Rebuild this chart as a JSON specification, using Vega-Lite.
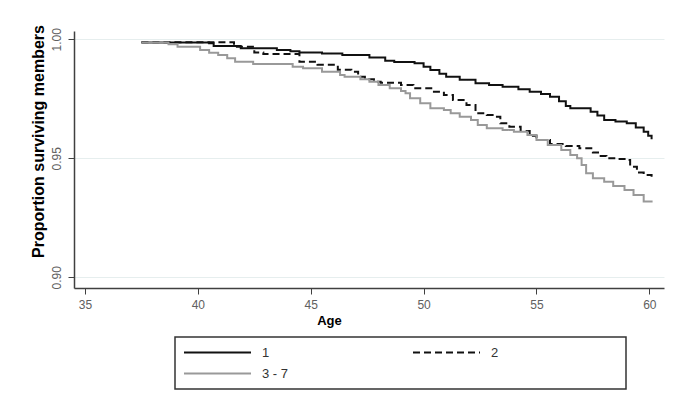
{
  "$schema": "https://vega.github.io/schema/vega-lite/v6.json",
  "autosize": {"type": "none"},
  "padding": {"left": 74, "top": 31, "right": 21, "bottom": 116},
  "width": 590,
  "height": 257,
  "background": "white",
  "config": {
    "font": "Liberation Sans",
    "view": {"stroke": null},
    "legend": {
      "orient": "none",
      "legendX": 101,
      "legendY": 306,
      "direction": "horizontal",
      "columns": 2,
      "columnPadding": 123,
      "rowPadding": 6,
      "padding": 8,
      "strokeColor": "#333333",
      "strokeWidth": 1.5,
      "symbolType": "stroke",
      "symbolSize": 4489,
      "symbolStrokeWidth": 2,
      "clipHeight": 15,
      "labelOffset": 10,
      "labelFontSize": 13,
      "labelLimit": 300,
      "labelColor": "#333333"
    }
  },
  "datasets": {
    "km": [
      {"group": "1", "age": 37.5, "surv": 0.9987},
      {"group": "1", "age": 40.5, "surv": 0.9983},
      {"group": "1", "age": 40.7, "surv": 0.9972},
      {"group": "1", "age": 41.9, "surv": 0.9962},
      {"group": "1", "age": 43.5, "surv": 0.9955},
      {"group": "1", "age": 44.1, "surv": 0.9950},
      {"group": "1", "age": 44.5, "surv": 0.9945},
      {"group": "1", "age": 45.5, "surv": 0.9940},
      {"group": "1", "age": 46.4, "surv": 0.9934},
      {"group": "1", "age": 47.6, "surv": 0.9924},
      {"group": "1", "age": 48.3, "surv": 0.9910},
      {"group": "1", "age": 48.7, "surv": 0.9905},
      {"group": "1", "age": 49.6, "surv": 0.9899},
      {"group": "1", "age": 50.0, "surv": 0.9885},
      {"group": "1", "age": 50.3, "surv": 0.9871},
      {"group": "1", "age": 50.7, "surv": 0.9855},
      {"group": "1", "age": 51.0, "surv": 0.9843},
      {"group": "1", "age": 51.6, "surv": 0.9830},
      {"group": "1", "age": 52.3, "surv": 0.9815},
      {"group": "1", "age": 52.9, "surv": 0.9808},
      {"group": "1", "age": 53.5, "surv": 0.9801},
      {"group": "1", "age": 54.2, "surv": 0.9790},
      {"group": "1", "age": 54.7, "surv": 0.9780},
      {"group": "1", "age": 55.2, "surv": 0.9770},
      {"group": "1", "age": 55.6, "surv": 0.9759},
      {"group": "1", "age": 56.0, "surv": 0.9740},
      {"group": "1", "age": 56.3, "surv": 0.9720},
      {"group": "1", "age": 56.5, "surv": 0.9710},
      {"group": "1", "age": 57.4, "surv": 0.9696},
      {"group": "1", "age": 57.7, "surv": 0.9680},
      {"group": "1", "age": 58.0, "surv": 0.9661},
      {"group": "1", "age": 58.5, "surv": 0.9655},
      {"group": "1", "age": 59.0, "surv": 0.9647},
      {"group": "1", "age": 59.4, "surv": 0.9630},
      {"group": "1", "age": 59.75, "surv": 0.9612},
      {"group": "1", "age": 59.95, "surv": 0.9595},
      {"group": "1", "age": 60.1, "surv": 0.9580},
      {"group": "2", "age": 37.5, "surv": 0.9988},
      {"group": "2", "age": 41.6, "surv": 0.9969},
      {"group": "2", "age": 42.5, "surv": 0.9945},
      {"group": "2", "age": 42.9, "surv": 0.9938},
      {"group": "2", "age": 44.5, "surv": 0.9906},
      {"group": "2", "age": 45.3, "surv": 0.9893},
      {"group": "2", "age": 46.2, "surv": 0.9872},
      {"group": "2", "age": 46.8, "surv": 0.9864},
      {"group": "2", "age": 47.1, "surv": 0.9843},
      {"group": "2", "age": 47.4, "surv": 0.9832},
      {"group": "2", "age": 47.8, "surv": 0.9822},
      {"group": "2", "age": 48.1, "surv": 0.9818},
      {"group": "2", "age": 49.0, "surv": 0.9808},
      {"group": "2", "age": 49.55, "surv": 0.9794},
      {"group": "2", "age": 50.4, "surv": 0.9780},
      {"group": "2", "age": 50.9, "surv": 0.9766},
      {"group": "2", "age": 51.3, "surv": 0.9745},
      {"group": "2", "age": 51.9, "surv": 0.9724},
      {"group": "2", "age": 52.3, "surv": 0.9689},
      {"group": "2", "age": 52.8, "surv": 0.9682},
      {"group": "2", "age": 53.2, "surv": 0.9675},
      {"group": "2", "age": 53.4, "surv": 0.9647},
      {"group": "2", "age": 53.8, "surv": 0.9633},
      {"group": "2", "age": 54.3, "surv": 0.9615},
      {"group": "2", "age": 54.7, "surv": 0.9595},
      {"group": "2", "age": 55.0, "surv": 0.9577},
      {"group": "2", "age": 55.6, "surv": 0.9560},
      {"group": "2", "age": 56.3, "surv": 0.9552},
      {"group": "2", "age": 56.9, "surv": 0.9542},
      {"group": "2", "age": 57.5, "surv": 0.9524},
      {"group": "2", "age": 57.8, "surv": 0.9510},
      {"group": "2", "age": 58.1, "surv": 0.9500},
      {"group": "2", "age": 58.6, "surv": 0.9497},
      {"group": "2", "age": 59.0, "surv": 0.9493},
      {"group": "2", "age": 59.15, "surv": 0.9465},
      {"group": "2", "age": 59.45, "surv": 0.9440},
      {"group": "2", "age": 59.75, "surv": 0.9430},
      {"group": "2", "age": 60.1, "surv": 0.9423},
      {"group": "3 - 7", "age": 37.5, "surv": 0.9987},
      {"group": "3 - 7", "age": 38.7, "surv": 0.9979},
      {"group": "3 - 7", "age": 39.1, "surv": 0.9969},
      {"group": "3 - 7", "age": 40.1, "surv": 0.9955},
      {"group": "3 - 7", "age": 40.5, "surv": 0.9944},
      {"group": "3 - 7", "age": 40.9, "surv": 0.9934},
      {"group": "3 - 7", "age": 41.3, "surv": 0.9920},
      {"group": "3 - 7", "age": 41.65, "surv": 0.9906},
      {"group": "3 - 7", "age": 42.45, "surv": 0.9896},
      {"group": "3 - 7", "age": 44.2, "surv": 0.9885},
      {"group": "3 - 7", "age": 44.66, "surv": 0.9878},
      {"group": "3 - 7", "age": 45.5, "surv": 0.9864},
      {"group": "3 - 7", "age": 46.3, "surv": 0.9850},
      {"group": "3 - 7", "age": 46.5, "surv": 0.9843},
      {"group": "3 - 7", "age": 47.2, "surv": 0.9832},
      {"group": "3 - 7", "age": 47.6, "surv": 0.9822},
      {"group": "3 - 7", "age": 48.0, "surv": 0.9808},
      {"group": "3 - 7", "age": 48.5, "surv": 0.9794},
      {"group": "3 - 7", "age": 49.0, "surv": 0.9783},
      {"group": "3 - 7", "age": 49.2, "surv": 0.9773},
      {"group": "3 - 7", "age": 49.4, "surv": 0.9752},
      {"group": "3 - 7", "age": 49.85, "surv": 0.9731},
      {"group": "3 - 7", "age": 50.3, "surv": 0.9710},
      {"group": "3 - 7", "age": 50.9, "surv": 0.9703},
      {"group": "3 - 7", "age": 51.2, "surv": 0.9689},
      {"group": "3 - 7", "age": 51.6, "surv": 0.9675},
      {"group": "3 - 7", "age": 52.1, "surv": 0.9661},
      {"group": "3 - 7", "age": 52.4, "surv": 0.9640},
      {"group": "3 - 7", "age": 52.8, "surv": 0.9626},
      {"group": "3 - 7", "age": 53.5, "surv": 0.9619},
      {"group": "3 - 7", "age": 54.0, "surv": 0.9612},
      {"group": "3 - 7", "age": 54.6, "surv": 0.9598},
      {"group": "3 - 7", "age": 55.0, "surv": 0.9577},
      {"group": "3 - 7", "age": 55.5, "surv": 0.9556},
      {"group": "3 - 7", "age": 56.1, "surv": 0.9535},
      {"group": "3 - 7", "age": 56.5, "surv": 0.9514},
      {"group": "3 - 7", "age": 56.8, "surv": 0.9500},
      {"group": "3 - 7", "age": 57.0, "surv": 0.9472},
      {"group": "3 - 7", "age": 57.2, "surv": 0.9437},
      {"group": "3 - 7", "age": 57.5, "surv": 0.9416},
      {"group": "3 - 7", "age": 58.0, "surv": 0.9402},
      {"group": "3 - 7", "age": 58.4, "surv": 0.9384},
      {"group": "3 - 7", "age": 58.9, "surv": 0.9367},
      {"group": "3 - 7", "age": 59.3, "surv": 0.9346},
      {"group": "3 - 7", "age": 59.75, "surv": 0.9318},
      {"group": "3 - 7", "age": 60.1, "surv": 0.9314}
    ]
  },
  "data": {"name": "km"},
  "mark": {"type": "line", "interpolate": "step-after", "strokeWidth": 2, "clip": false},
  "encoding": {
    "x": {
      "field": "age",
      "type": "quantitative",
      "scale": {"domain": [34.513, 60.65], "nice": false, "zero": false},
      "axis": {
        "title": "Age",
        "values": [35, 40, 45, 50, 55, 60],
        "grid": false,
        "domainColor": "#404040",
        "domainWidth": 1.5,
        "tickColor": "#404040",
        "tickSize": 6,
        "tickWidth": 1,
        "labelColor": "#606060",
        "labelFontSize": 12,
        "labelPadding": 5,
        "labelDx": -4,
        "labelFlush": false,
        "titleFontSize": 13,
        "titleFontWeight": "bold",
        "titleColor": "#000000",
        "titleX": 255,
        "titleY": 32,
        "titleAnchor": null,
        "titleAlign": "center",
        "titleBaseline": "middle"
      }
    },
    "y": {
      "field": "surv",
      "type": "quantitative",
      "scale": {"domain": [0.8955, 1.0035], "nice": false, "zero": false},
      "axis": {
        "title": "Proportion surviving members",
        "values": [0.9, 0.95, 1.0],
        "format": ".2f",
        "grid": true,
        "gridColor": "#e6eeee",
        "gridWidth": 1,
        "domainColor": "#404040",
        "domainWidth": 1.5,
        "tickColor": "#404040",
        "tickSize": 6,
        "tickWidth": 1,
        "labelColor": "#606060",
        "labelFontSize": 12,
        "labelAngle": 270,
        "labelAlign": "center",
        "labelBaseline": "bottom",
        "labelPadding": 5,
        "titleFontSize": 16,
        "titleFontWeight": "bold",
        "titleColor": "#000000",
        "titleAngle": 270,
        "titleX": -36,
        "titleY": 110,
        "titleAlign": "center",
        "titleBaseline": "middle"
      }
    },
    "color": {
      "field": "group",
      "type": "nominal",
      "scale": {"domain": ["1", "2", "3 - 7"], "range": ["#111111", "#111111", "#999999"]},
      "legend": {
        "title": null,
        "labelExpr": "datum.label == '2' ? '2\u00a0\u00a0\u00a0\u00a0\u00a0\u00a0\u00a0\u00a0\u00a0\u00a0\u00a0\u00a0\u00a0\u00a0\u00a0\u00a0\u00a0\u00a0\u00a0\u00a0\u00a0\u00a0\u00a0\u00a0\u00a0\u00a0\u00a0\u00a0\u00a0\u00a0\u00a0\u00a0\u00a0\u200b' : datum.label"
      }
    },
    "strokeDash": {
      "field": "group",
      "type": "nominal",
      "scale": {"domain": ["1", "2", "3 - 7"], "range": [[1, 0], [7, 4], [1, 0]]},
      "legend": {
        "title": null,
        "labelExpr": "datum.label == '2' ? '2\u00a0\u00a0\u00a0\u00a0\u00a0\u00a0\u00a0\u00a0\u00a0\u00a0\u00a0\u00a0\u00a0\u00a0\u00a0\u00a0\u00a0\u00a0\u00a0\u00a0\u00a0\u00a0\u00a0\u00a0\u00a0\u00a0\u00a0\u00a0\u00a0\u00a0\u00a0\u00a0\u00a0\u200b' : datum.label"
      }
    }
  }
}
